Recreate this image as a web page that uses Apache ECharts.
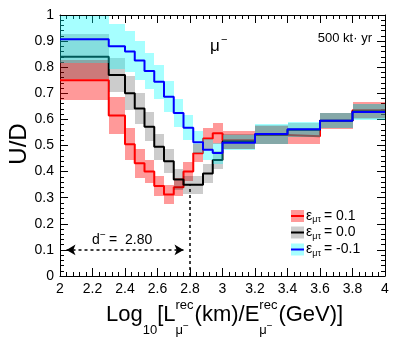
<!DOCTYPE html>
<html><head><meta charset="utf-8">
<script src="https://cdn.jsdelivr.net/npm/echarts@6/dist/echarts.min.js"></script>
<style>html,body{margin:0;padding:0;background:#fff}#c{width:399px;height:337px}</style>
</head><body><div id="c"></div>
<script>
// ---- data ----
const binEdges = [2.0, 2.3, 2.4, 2.46, 2.52, 2.58, 2.64, 2.70, 2.76, 2.82, 2.88, 2.94, 3.0, 3.2, 3.4, 3.6, 3.8, 4.0];
const redValues   = [0.750, 0.615, 0.505, 0.432, 0.400, 0.345, 0.312, 0.340, 0.400, 0.470, 0.527, 0.547, 0.520, 0.540, 0.535, 0.595, 0.635];
const redErr      = [0.076, 0.070, 0.062, 0.055, 0.045, 0.040, 0.035, 0.035, 0.035, 0.035, 0.040, 0.040, 0.035, 0.035, 0.030, 0.030, 0.030];
const blackValues = [0.840, 0.770, 0.700, 0.642, 0.572, 0.495, 0.440, 0.370, 0.350, 0.350, 0.393, 0.444, 0.515, 0.542, 0.560, 0.595, 0.630];
const blackErr    = [0.087, 0.065, 0.065, 0.060, 0.055, 0.050, 0.045, 0.040, 0.035, 0.035, 0.035, 0.035, 0.030, 0.035, 0.028, 0.028, 0.030];
const blueValues  = [0.907, 0.880, 0.860, 0.826, 0.785, 0.744, 0.687, 0.625, 0.568, 0.512, 0.484, 0.471, 0.511, 0.544, 0.562, 0.595, 0.628];
const blueErr     = [0.090, 0.085, 0.080, 0.075, 0.070, 0.065, 0.060, 0.055, 0.048, 0.042, 0.040, 0.040, 0.030, 0.037, 0.028, 0.028, 0.032];
const legendValues = ['0.1', '0.0', '-0.1'];
const dLabel = '2.80';
const dLineX = 2.8, dLineTop = 0.348;
const arrowY = 0.1, arrowFrom = 2.04, arrowTo = 2.76;

// ---- helpers ----
const FONT = '"Liberation Sans", Arial, Helvetica, sans-serif';
const mctx = document.createElement('canvas').getContext('2d');
function tw(s, size){ mctx.font = size + 'px ' + FONT; return mctx.measureText(s).width; }

function bandData(vals, errs){ return vals.map((v,i)=>[binEdges[i], binEdges[i+1], v-errs[i], v+errs[i]]); }
function stepData(vals){ const d = vals.map((v,i)=>[binEdges[i], v]); d.push([binEdges[binEdges.length-1], vals[vals.length-1]]); return d; }
function bandSeries(vals, errs, color, z){
  return {type:'custom', z, silent:true, animation:false, data: bandData(vals, errs), encode:{x:[0,1], y:[2,3]},
    renderItem(params, api){
      const p0 = api.coord([api.value(0), api.value(3)]);
      const p1 = api.coord([api.value(1), api.value(2)]);
      const cs = params.coordSys;
      const x0 = Math.round(p0[0]), x1 = Math.round(p1[0]);
      let y0 = Math.round(p0[1]), y1 = Math.round(p1[1]);
      y0 = Math.max(y0, Math.round(cs.y));
      return {type:'rect', shape:{x:x0, y:y0, width:x1-x0, height:y1-y0}, style:{fill:color}};
    }};
}
function lineSeries(vals, color, z, extra){
  return Object.assign({type:'line', step:'end', z, data: stepData(vals), symbol:'none', animation:false, silent:true,
    lineStyle:{color, width:2}, itemStyle:{color}}, extra||{});
}

const axisCommon = {
  axisLine:{show:true, onZero:false, lineStyle:{color:'#000', width:1}},
  axisTick:{show:true, inside:true, length:8, lineStyle:{color:'#000', width:1}},
  minorTick:{show:true, splitNumber:5, length:4, lineStyle:{color:'#000', width:1}},
  splitLine:{show:false}, minorSplitLine:{show:false}
};
const labelStyle = {color:'#000', fontSize:14, fontFamily:FONT};

// ---- graphics: texts ----
const g = [];
function T(text, x, y, size, opts){
  g.push(Object.assign({type:'text', x, y, silent:true, style:Object.assign({text, font: size+'px '+FONT, fill:'#000', align:'left', verticalAlign:'middle'}, (opts&&opts.style)||{})}, opts&&opts.el||{}));
}
// y title
T('U/D', 19, 144, 24, {el:{rotation:Math.PI/2}, style:{align:'center'}});
// x title
(function(){
  const F = 22, S = 13, yM = 315, ySup = 305, ySub = 330;
  let x = 106;
  T('Log', x, yM, F); x += tw('Log', F);
  T('10', x, ySub, S); x += tw('10', S);
  T('[L', x, yM, F); x += tw('[L', F);
  function stack(){
    T('rec', x, ySup, S);
    T('\u03bc', x, ySub, S);
    T('\u2212', x + tw('\u03bc', S), ySub - 4, 10);
    x += Math.max(tw('rec', S), tw('\u03bc', S) + tw('\u2212', 10)) + 1;
  }
  stack();
  T('(km)/E', x, yM, F); x += tw('(km)/E', F);
  stack();
  T('(GeV)]', x, yM, F);
})();
// mu- label
T('\u03bc', 210, 46, 17);
T('\u2212', 221, 40, 11);
// exposure
T('500 kt\u00b7 yr', 372, 38, 13, {style:{align:'right'}});
// d- label
T('d', 92, 240, 14);
T('\u2212', 100, 235, 10);
T('=  ' + dLabel, 109, 240, 14);
// legend
const legColors = [['rgba(255,0,0,0.4)','#ff0000'],['rgba(0,0,0,0.2)','#000000'],['rgba(0,255,255,0.35)','#0000ff']];
const legY = [216, 232.5, 249.5];
legendValues.forEach((v,i)=>{
  const y = legY[i];
  g.push({type:'rect', silent:true, shape:{x:291, y:y-6, width:13, height:12}, style:{fill:legColors[i][0]}});
  g.push({type:'line', silent:true, shape:{x1:291, y1:y, x2:304, y2:y}, style:{stroke:legColors[i][1], lineWidth:2}});
  T('\u03b5', 306, y, 14);
  T('\u03bc\u03c4', 306 + tw('\u03b5', 14), y + 4, 9);
  T('= ' + v, 306 + tw('\u03b5', 14) + tw('\u03bc\u03c4', 9) + 3, y, 14);
});

const chart = echarts.init(document.getElementById('c'));
chart.setOption({
  animation:false,
  backgroundColor:'#fff',
  grid:{left:60, right:14, top:15, bottom:61},
  xAxis:[
    Object.assign({type:'value', min:2, max:4, interval:0.2, position:'bottom', axisLabel:Object.assign({margin:6}, labelStyle)}, axisCommon),
    Object.assign({type:'value', min:2, max:4, interval:0.2, position:'top', axisLabel:{show:false}}, axisCommon)
  ],
  yAxis:[
    Object.assign({type:'value', min:0, max:1, interval:0.1, position:'left', axisLabel:Object.assign({margin:6}, labelStyle)}, axisCommon),
    Object.assign({type:'value', min:0, max:1, interval:0.1, position:'right', axisLabel:{show:false}}, axisCommon)
  ],
  series:[
    bandSeries(redValues, redErr, 'rgba(255,0,0,0.4)', 1),
    lineSeries(redValues, '#ff0000', 2),
    bandSeries(blackValues, blackErr, 'rgba(0,0,0,0.2)', 3),
    lineSeries(blackValues, '#000000', 4, {
      markLine:{silent:true, animation:false, symbolSize:[8,9], label:{show:false},
        lineStyle:{color:'#000', type:[3,3], width:1.5},
        data:[
          [{coord:[arrowFrom, arrowY], symbol:'arrow'}, {coord:[arrowTo, arrowY], symbol:'arrow'}],
          [{coord:[dLineX, 0], symbol:'none'}, {coord:[dLineX, dLineTop], symbol:'none'}]
        ]}
    }),
    bandSeries(blueValues, blueErr, 'rgba(0,255,255,0.35)', 5),
    lineSeries(blueValues, '#0000ff', 6)
  ],
  graphic:g
});
</script></body></html>
